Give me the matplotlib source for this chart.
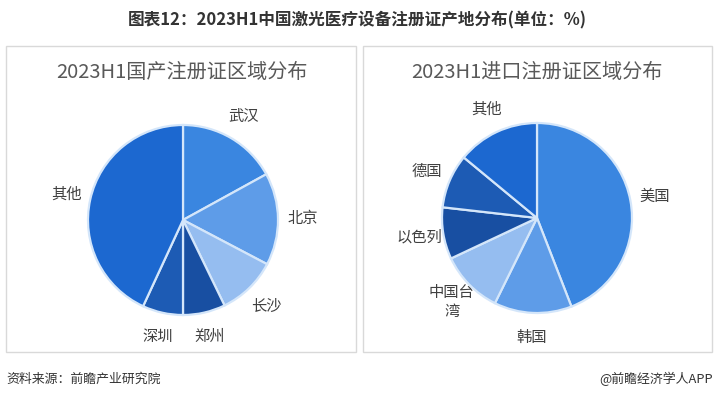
import matplotlib
matplotlib.use("Agg")
import matplotlib.pyplot as plt
from matplotlib.patches import Rectangle

plt.rcParams['font.family'] = ['Noto Sans CJK SC', 'DejaVu Sans']

title = "图表12：2023H1中国激光医疗设备注册证产地分布(单位：%)"
left_title = "2023H1国产注册证区域分布"
left_labels = ["武汉", "北京", "长沙", "郑州", "深圳", "其他"]
left_values = [17.0, 15.7, 10.1, 7.2, 6.9, 43.1]
right_title = "2023H1进口注册证区域分布"
right_labels = ["美国", "韩国", "中国台\n湾", "以色列", "德国", "其他"]
right_values = [44.1, 13.2, 10.7, 8.8, 9.2, 14.0]
colors = ["#3a86e0", "#5e9ce8", "#95bdf0", "#184fa2", "#1d5bb4", "#1c68d0"]
source = "资料来源：前瞻产业研究院"
credit = "@前瞻经济学人APP"

W, H = 717, 397
fig = plt.figure(figsize=(W / 100, H / 100), dpi=100)
fig.patch.set_facecolor("white")

def px(x, y):
    return x / W, 1 - y / H

# panel borders
for (x0, x1) in [(6, 356), (363, 712)]:
    y0, y1 = 46, 352
    fig.patches.append(Rectangle((x0 / W, 1 - y1 / H), (x1 - x0) / W, (y1 - y0) / H,
                                 transform=fig.transFigure, fill=False,
                                 edgecolor="#d9d9d9", linewidth=1.0))

fig.text(*px(357, 20), title, ha="center", va="center", fontsize=12,
         fontweight="bold", color="#333333")

def draw_pie(cx, cy, labels, values, sub, sub_x):
    R = 95
    s = 2.5 * R
    ax = fig.add_axes([(cx - s / 2) / W, 1 - (cy + s / 2) / H, s / W, s / H])
    wedges, texts = ax.pie(values, labels=labels, colors=colors, startangle=90,
                           counterclock=False, radius=1.0, labeldistance=1.26,
                           wedgeprops=dict(edgecolor="#d4e6fa", linewidth=1.6),
                           textprops=dict(fontsize=11, color="#404040"))
    for t in texts:
        t.set_ha("center")
        t.set_va("center")
    ax.set_xlim(-1.25, 1.25)
    ax.set_ylim(-1.25, 1.25)
    fig.text(*px(sub_x, 73), sub, ha="center", va="center", fontsize=14.5,
             color="#595959")

draw_pie(183, 220, left_labels, left_values, left_title, 182)
draw_pie(537, 218, right_labels, right_values, right_title, 537)

fig.text(*px(6, 379), source, ha="left", va="center", fontsize=9.3, color="#333333")
fig.text(*px(713, 379), credit, ha="right", va="center", fontsize=9.3, color="#333333")

fig.savefig("out.png", dpi=100, facecolor="white")
